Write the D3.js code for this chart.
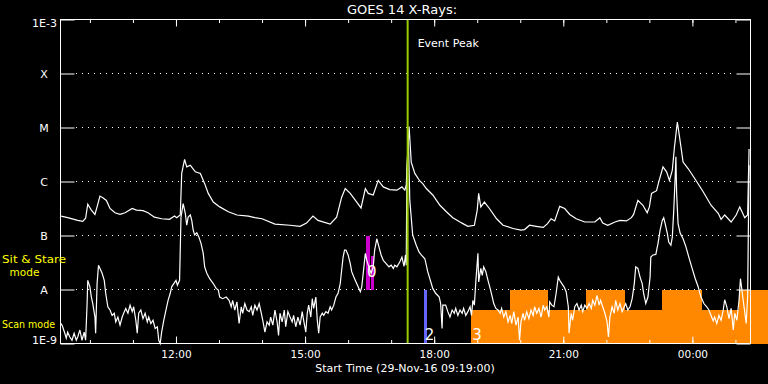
<!DOCTYPE html>
<html>
<head>
<meta charset="utf-8">
<script src="https://cdn.jsdelivr.net/npm/d3@7"></script>
<style>
body { margin: 0; background: #000; }
svg { display: block; font-family: "DejaVu Sans", sans-serif; }
</style>
</head>
<body>
<svg id="chart" width="768" height="384"></svg>
<script>
var startTime = new Date(2016, 10, 29, 9, 19, 0);
var endTime = new Date(2016, 10, 30, 1, 21, 0);

// long channel (1-8 A): [minutes after start, log10 flux]
var longChannel = [
  [1,-6.64],[10,-6.67],[24,-6.72],[31,-6.74],[35,-6.68],[38,-6.42],[43,-6.53],[48,-6.61],[51,-6.47],[55,-6.27],
  [59,-6.30],[64,-6.35],[69,-6.50],[76,-6.58],[83,-6.61],[90,-6.58],[100,-6.50],[106,-6.53],[115,-6.54],[122,-6.58],
  [131,-6.66],[141,-6.69],[152,-6.70],[159,-6.64],[162,-6.67],[167,-6.62],[169,-5.85],[173,-5.59],[176,-5.73],[181,-5.70],
  [188,-5.82],[195,-5.85],[201,-6.04],[206,-6.22],[213,-6.38],[222,-6.47],[234,-6.56],[246,-6.62],[262,-6.64],[271,-6.67],
  [281,-6.69],[299,-6.79],[320,-6.81],[334,-6.83],[343,-6.77],[352,-6.64],[359,-6.72],[376,-6.79],[385,-6.66],[392,-6.29],
  [397,-6.13],[404,-6.22],[413,-6.38],[419,-6.49],[425,-6.13],[429,-6.22],[436,-6.25],[443,-5.98],[450,-6.10],[459,-6.15],
  [469,-6.16],[476,-6.10],[480,-6.16],[482,-6.07],[486,-4.98],[489,-5.64],[494,-5.85],[501,-5.99],[505,-6.04],[510,-6.13],
  [519,-6.25],[529,-6.44],[538,-6.56],[547,-6.67],[557,-6.75],[561,-6.78],[568,-6.83],[577,-6.81],[581,-6.53],[583,-6.22],
  [586,-6.47],[591,-6.38],[598,-6.50],[608,-6.69],[617,-6.81],[631,-6.87],[642,-6.90],[647,-6.89],[654,-6.81],[663,-6.83],
  [673,-6.85],[679,-6.78],[684,-6.69],[689,-6.73],[696,-6.46],[703,-6.50],[710,-6.61],[719,-6.69],[731,-6.75],[745,-6.75],
  [752,-6.67],[756,-6.77],[763,-6.81],[773,-6.75],[780,-6.72],[789,-6.73],[796,-6.67],[799,-6.61],[805,-6.35],[812,-6.44],
  [818,-6.58],[821,-6.47],[824,-6.22],[831,-6.17],[834,-6.01],[840,-5.73],[845,-5.82],[849,-5.98],[853,-5.79],[856,-5.36],
  [860,-4.90],[863,-5.17],[868,-5.64],[875,-5.76],[884,-5.94],[896,-6.19],[907,-6.44],[917,-6.59],[921,-6.70],[926,-6.62],
  [935,-6.75],[942,-6.62],[947,-6.47],[954,-6.67],[958,-6.62],[960,-5.40]
];

// short channel (0.5-4 A): [minutes after start, log10 flux]
var shortChannel = [
  [1,-8.63],[3,-8.69],[6,-8.81],[8,-8.90],[10,-8.79],[13,-8.88],[16,-8.94],[19,-8.81],[22,-8.94],[24,-8.88],
  [27,-8.75],[30,-8.94],[33,-8.79],[35,-8.94],[37,-8.29],[38,-7.83],[41,-7.95],[43,-8.14],[45,-8.26],[48,-8.51],
  [49,-8.81],[51,-7.89],[53,-7.55],[56,-7.64],[58,-7.70],[61,-7.83],[63,-8.07],[66,-8.32],[69,-8.38],[72,-8.48],
  [75,-8.44],[77,-8.60],[80,-8.51],[83,-8.66],[86,-8.51],[89,-8.41],[91,-8.35],[94,-8.44],[97,-8.29],[100,-8.41],
  [102,-8.32],[105,-8.57],[107,-8.81],[109,-8.44],[112,-8.38],[115,-8.54],[118,-8.44],[121,-8.60],[123,-8.51],[126,-8.63],
  [129,-8.57],[132,-8.72],[135,-8.69],[137,-8.94],[139,-9.00],[141,-8.79],[144,-8.57],[147,-8.38],[150,-8.20],[153,-8.07],
  [155,-7.95],[158,-7.89],[161,-7.83],[163,-7.92],[166,-7.83],[168,-6.66],[171,-6.41],[174,-6.59],[176,-6.81],[178,-6.66],
  [181,-6.62],[183,-6.72],[185,-6.90],[187,-6.99],[190,-6.95],[193,-7.03],[196,-7.15],[199,-7.33],[201,-7.58],[204,-7.70],
  [208,-7.80],[213,-7.89],[217,-7.98],[220,-8.01],[222,-8.14],[226,-8.17],[231,-8.14],[235,-8.20],[238,-8.32],[240,-8.20],
  [243,-8.38],[246,-8.23],[249,-8.63],[252,-8.32],[254,-8.44],[257,-8.26],[260,-8.38],[263,-8.41],[266,-8.32],[268,-8.48],
  [271,-8.29],[274,-8.38],[277,-8.26],[280,-8.44],[282,-8.57],[285,-8.79],[288,-8.60],[291,-8.66],[293,-8.51],[296,-8.66],
  [299,-8.38],[302,-8.60],[304,-8.85],[306,-8.44],[309,-8.60],[312,-8.38],[314,-8.69],[317,-8.41],[320,-8.51],[323,-8.60],
  [325,-8.48],[328,-8.69],[331,-8.51],[334,-8.66],[337,-8.41],[339,-8.57],[342,-8.79],[344,-8.44],[346,-8.29],[349,-8.51],
  [351,-8.17],[353,-8.35],[356,-8.14],[358,-8.57],[360,-8.81],[362,-8.51],[365,-8.44],[367,-8.48],[370,-8.41],[373,-8.44],
  [376,-8.32],[378,-8.38],[381,-8.29],[384,-8.14],[387,-8.07],[390,-7.89],[392,-7.64],[394,-7.40],[396,-7.27],[398,-7.27],
  [401,-7.36],[404,-7.52],[406,-7.67],[409,-7.77],[412,-7.86],[415,-7.95],[418,-8.04],[420,-7.95],[423,-7.58],[425,-7.33],
  [427,-7.46],[430,-7.58],[433,-7.70],[436,-7.58],[438,-7.27],[441,-7.06],[444,-7.21],[447,-7.36],[450,-7.46],[454,-7.52],
  [458,-7.58],[461,-7.55],[464,-7.61],[466,-7.55],[469,-7.58],[473,-7.49],[476,-7.40],[479,-7.57],[481,-7.36],[482,-7.55],
  [483,-5.73],[485,-5.24],[487,-6.35],[491,-6.99],[496,-7.18],[500,-7.31],[503,-7.36],[508,-7.43],[512,-7.67],[519,-7.98],
  [523,-8.07],[528,-8.14],[530,-8.26],[532,-8.72],[533,-8.29],[537,-8.29],[540,-8.41],[543,-8.51],[546,-8.38],[549,-8.44],
  [551,-8.35],[554,-8.48],[557,-8.38],[560,-8.44],[562,-8.35],[565,-8.48],[568,-8.41],[571,-8.32],[573,-8.48],[575,-8.20],
  [577,-8.29],[579,-7.86],[582,-7.33],[583,-7.86],[586,-7.61],[588,-7.74],[590,-7.58],[593,-7.67],[596,-7.83],[599,-7.98],
  [602,-8.14],[604,-8.26],[607,-8.35],[610,-8.38],[613,-8.44],[615,-8.35],[618,-8.51],[621,-8.41],[624,-8.60],[627,-8.48],
  [629,-8.63],[632,-8.41],[635,-8.66],[638,-8.51],[640,-8.94],[642,-8.60],[645,-8.44],[647,-8.57],[650,-8.41],[653,-8.54],
  [656,-8.38],[659,-8.48],[661,-8.32],[664,-8.44],[667,-8.35],[670,-8.51],[673,-8.29],[675,-8.38],[678,-8.32],[681,-8.51],
  [682,-8.23],[685,-8.29],[688,-8.32],[691,-8.07],[694,-7.77],[696,-7.83],[699,-7.89],[702,-7.95],[705,-8.04],[708,-8.32],
  [709,-8.81],[712,-8.44],[714,-8.57],[717,-8.32],[720,-8.26],[723,-8.38],[726,-8.29],[728,-8.41],[731,-8.29],[734,-8.35],
  [737,-8.26],[740,-8.35],[742,-8.20],[745,-8.29],[748,-8.11],[751,-8.29],[753,-8.20],[756,-8.32],[759,-8.44],[762,-8.60],
  [764,-8.88],[766,-8.51],[769,-8.32],[772,-8.44],[774,-8.20],[777,-8.38],[780,-8.26],[783,-8.41],[786,-8.32],[788,-8.26],
  [791,-8.38],[794,-8.32],[797,-8.17],[800,-7.89],[802,-7.58],[805,-7.61],[808,-7.77],[811,-7.89],[813,-8.07],[816,-8.26],
  [819,-8.14],[822,-7.77],[823,-7.40],[826,-7.36],[830,-7.35],[833,-7.15],[836,-6.90],[839,-6.72],[841,-6.67],[843,-6.78],
  [846,-6.96],[848,-7.12],[851,-7.18],[853,-7.03],[855,-6.53],[857,-5.91],[858,-5.54],[859,-6.22],[861,-6.78],[864,-6.96],
  [868,-7.06],[872,-7.21],[876,-7.40],[880,-7.58],[885,-7.80],[889,-7.95],[893,-8.14],[897,-8.26],[901,-8.32],[904,-8.38],
  [907,-8.48],[910,-8.58],[912,-8.51],[915,-8.63],[918,-8.48],[921,-8.57],[924,-8.38],[926,-8.19],[929,-8.32],[932,-8.54],
  [935,-8.35],[938,-8.75],[940,-8.44],[943,-8.57],[946,-8.20],[948,-7.80],[950,-8.01],[953,-8.32],[956,-8.63],[957,-8.38],
  [958,-8.14],[960,-5.70]
];

var classDecades = [-9, -8, -7, -6, -5, -4, -3];
var classLabels = ['1E-9', 'A', 'B', 'C', 'M', 'X', '1E-3'];

var eventPeakMin = 484;
// [start min, end min, top log10 flux]
var sitStareBars = [[426, 432, -7], [433, 437, -7.38]];
var scanBars = [[507, 511, -8]];
var modeBlocks = [
  [572, 626, -8.38], [626, 679, -8], [679, 733, -8.38], [733, 787, -8],
  [787, 839, -8.38], [839, 894, -8], [894, 946, -8.38], [946, 986, -8]
];
// [text, minute, log10 flux, anchor]
var flareLabels = [['0', 434, -7.77, 'middle'], ['2', 508, -8.93, 'start'], ['3', 574, -8.93, 'start']];

var svg = d3.select('#chart');
svg.append('rect').attr('width', 768).attr('height', 384).attr('fill', '#000');

var tm = function(m) { return new Date(startTime.getTime() + m * 60000); };
var x = d3.scaleTime().domain([startTime, endTime]).range([60.5, 750.5]);
var y = d3.scaleLog().domain([1e-9, 1e-3]).range([343.5, 19.5]);
var fy = function(v) { return y(Math.pow(10, v)); };

// dotted class lines
svg.append('g').selectAll('line')
  .data(classDecades.filter(function(d) { return d > -9 && d < -3; }))
  .enter().append('line')
  .attr('x1', 76).attr('x2', 736)
  .attr('y1', function(d) { return fy(d); })
  .attr('y2', function(d) { return fy(d); })
  .attr('stroke', '#fff')
  .attr('stroke-dasharray', '1,5');

var bars = function(data, color, base) {
  svg.append('g').selectAll('rect')
    .data(data)
    .enter().append('rect')
    .attr('x', function(d) { return Math.round(x(tm(d[0]))); })
    .attr('width', function(d) { return Math.round(x(tm(d[1]))) - Math.round(x(tm(d[0]))); })
    .attr('y', function(d) { return Math.round(fy(d[2])); })
    .attr('height', function(d) { return Math.round(fy(base)) - Math.round(fy(d[2])); })
    .attr('fill', color)
    .attr('shape-rendering', 'crispEdges');
};
bars(modeBlocks, '#ff8800', -9);
bars(sitStareBars, '#cc00cc', -8);
bars(scanBars, '#6464ff', -9);

var line = d3.line()
  .x(function(d) { return x(tm(d[0])); })
  .y(function(d) { return fy(d[1]); });

[longChannel, shortChannel].forEach(function(series) {
  svg.append('path')
    .datum(series)
    .attr('d', line)
    .attr('fill', 'none')
    .attr('stroke', '#fff')
    .attr('stroke-width', 1.2);
});

// event peak
svg.append('line')
  .attr('x1', x(tm(eventPeakMin))).attr('x2', x(tm(eventPeakMin)))
  .attr('y1', 19.5).attr('y2', 343.5)
  .attr('stroke', '#99cc00').attr('stroke-width', 2);
svg.append('text')
  .attr('x', x(tm(eventPeakMin)) + 10).attr('y', 47)
  .attr('fill', '#fff').attr('font-size', 11)
  .text('Event Peak');

svg.append('g').selectAll('text')
  .data(flareLabels)
  .enter().append('text')
  .attr('x', function(d) { return x(tm(d[1])); })
  .attr('y', function(d) { return fy(d[2]); })
  .attr('text-anchor', function(d) { return d[3]; })
  .attr('fill', '#fff').attr('font-size', 15)
  .text(function(d) { return d[0]; });

// frame and axes
svg.append('rect')
  .attr('x', 60.5).attr('y', 19.5).attr('width', 690).attr('height', 324)
  .attr('fill', 'none').attr('stroke', '#fff');

var styleAxis = function(g) {
  g.select('.domain').remove();
  g.selectAll('line').attr('stroke', '#fff');
  g.selectAll('text').attr('fill', '#fff').attr('font-family', '"DejaVu Sans", sans-serif');
};

svg.append('g').attr('transform', 'translate(0,343.5)')
  .call(d3.axisBottom(x).ticks(d3.timeHour.every(1)).tickSize(-3.5).tickFormat(''))
  .call(styleAxis);
svg.append('g').attr('transform', 'translate(0,343.5)')
  .call(d3.axisBottom(x).ticks(d3.timeHour.every(3)).tickSize(-7).tickPadding(7).tickFormat(d3.timeFormat('%H:%M')))
  .call(styleAxis)
  .selectAll('text').attr('font-size', 10.5);
svg.append('g').attr('transform', 'translate(0,19.5)')
  .call(d3.axisTop(x).ticks(d3.timeHour.every(1)).tickSize(-3.5).tickFormat(''))
  .call(styleAxis);
svg.append('g').attr('transform', 'translate(0,19.5)')
  .call(d3.axisTop(x).ticks(d3.timeHour.every(3)).tickSize(-7).tickFormat(''))
  .call(styleAxis);

var decadeVals = classDecades.map(function(d) { return Math.pow(10, d); });
svg.append('g').attr('transform', 'translate(60.5,0)')
  .call(d3.axisLeft(y).tickValues(decadeVals).tickSize(-14).tickFormat(''))
  .call(styleAxis);
svg.append('g').attr('transform', 'translate(750.5,0)')
  .call(d3.axisRight(y).tickValues(decadeVals).tickSize(-14).tickFormat(''))
  .call(styleAxis);

svg.append('g').selectAll('text')
  .data(classDecades)
  .enter().append('text')
  .attr('x', function(d) { return (d === -9 || d === -3) ? 57 : 44; })
  .attr('y', function(d) { return d === -3 ? 27 : (d === -9 ? 343.5 : fy(d) + 4); })
  .attr('text-anchor', function(d) { return (d === -9 || d === -3) ? 'end' : 'middle'; })
  .attr('fill', '#fff').attr('font-size', 11)
  .text(function(d, i) { return classLabels[i]; });

// titles
svg.append('text').attr('x', 402).attr('y', 14).attr('text-anchor', 'middle')
  .attr('fill', '#fff').attr('font-size', 13).text('GOES 14 X-Rays:');
svg.append('text').attr('x', 405).attr('y', 372).attr('text-anchor', 'middle')
  .attr('fill', '#fff').attr('font-size', 11).text('Start Time (29-Nov-16 09:19:00)');

// mode labels
svg.append('text').attr('x', 2).attr('y', 262.5).attr('fill', '#ffff00').attr('font-size', 10)
  .attr('textLength', 64).attr('lengthAdjust', 'spacingAndGlyphs').text('Sit & Stare');
svg.append('text').attr('x', 24.5).attr('y', 276).attr('text-anchor', 'middle').attr('fill', '#ffff00').attr('font-size', 10.5).text('mode');
svg.append('text').attr('x', 2).attr('y', 328).attr('fill', '#ffff00').attr('font-size', 11)
  .attr('textLength', 53).attr('lengthAdjust', 'spacingAndGlyphs').text('Scan mode');
</script>
</body>
</html>
